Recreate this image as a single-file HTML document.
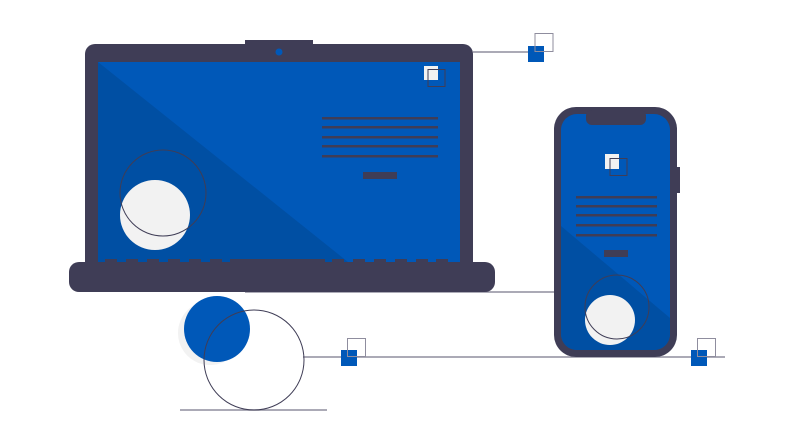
<!DOCTYPE html>
<html><head><style>html,body{margin:0;padding:0;background:#fff;width:795px;height:447px;overflow:hidden}</style></head>
<body>
<svg width="795" height="447" viewBox="0 0 795 447" xmlns="http://www.w3.org/2000/svg">
<!-- connector lines -->
<line x1="473" y1="52" x2="535" y2="52" stroke="#8f8d9e" stroke-width="1.5"/>
<line x1="245" y1="292" x2="556" y2="292" stroke="#8f8d9e" stroke-width="1.5"/>
<line x1="303" y1="357" x2="725" y2="357" stroke="#8f8d9e" stroke-width="1.5"/>
<line x1="180" y1="410" x2="327" y2="410" stroke="#8f8d9e" stroke-width="1.5"/>
<!-- laptop -->
<rect x="245" y="40" width="68" height="6" fill="#3f3d56"/>
<rect x="85" y="44" width="388" height="230" rx="10" fill="#3f3d56"/>
<rect x="98" y="62" width="362" height="200" fill="#0058b8"/>
<polygon points="98,62 348,262 98,262" fill="#004fa3"/>
<circle cx="279" cy="52" r="3.5" fill="#0058b8"/>
<rect x="69" y="262" width="426" height="30" rx="10" fill="#3f3d56"/>
<g fill="#3f3d56">
<rect x="105" y="259" width="12" height="4"/><rect x="126" y="259" width="12" height="4"/><rect x="147" y="259" width="12" height="4"/><rect x="168" y="259" width="12" height="4"/><rect x="189" y="259" width="12" height="4"/><rect x="210" y="259" width="12" height="4"/><rect x="230" y="259" width="95" height="4"/><rect x="332" y="259" width="12" height="4"/><rect x="353" y="259" width="12" height="4"/><rect x="374" y="259" width="12" height="4"/><rect x="395" y="259" width="12" height="4"/><rect x="416" y="259" width="12" height="4"/><rect x="436" y="259" width="12" height="4"/>
</g>
<rect x="424" y="66" width="14" height="14" fill="#f2f2f2"/>
<rect x="428" y="69.5" width="17" height="17" fill="none" stroke="#3f3d56" stroke-width="1"/>
<g fill="#3f3d56">
<rect x="322" y="117" width="116" height="2.5"/><rect x="322" y="126" width="116" height="2.5"/><rect x="322" y="136" width="116" height="2.5"/><rect x="322" y="145" width="116" height="2.5"/><rect x="322" y="155" width="116" height="2.5"/>
<rect x="363" y="172" width="34" height="7"/>
</g>
<circle cx="155" cy="215" r="35" fill="#f2f2f2"/>
<circle cx="163" cy="193" r="43" fill="none" stroke="#3f3d56" stroke-width="1"/>
<!-- top right squares -->
<rect x="528" y="46" width="16" height="16" fill="#0058b8"/>
<rect x="535" y="33.5" width="18" height="18" fill="none" stroke="#8f8d9e" stroke-width="1"/>
<!-- phone -->
<rect x="677" y="167" width="3" height="26" fill="#3f3d56"/>
<rect x="554" y="107" width="123" height="250" rx="22" fill="#3f3d56"/>
<clipPath id="ps"><rect x="561" y="114" width="109" height="236" rx="16"/></clipPath>
<g clip-path="url(#ps)">
<rect x="561" y="114" width="109" height="236" fill="#0058b8"/>
<polygon points="561,226 670,318 670,350 561,350" fill="#004fa3"/>
</g>
<rect x="586" y="110" width="60" height="15" rx="6" fill="#3f3d56"/>
<rect x="605" y="154" width="14" height="15" fill="#f2f2f2"/>
<rect x="610" y="158.5" width="17" height="17" fill="none" stroke="#3f3d56" stroke-width="1"/>
<g fill="#3f3d56">
<rect x="576" y="196" width="81" height="2.5"/><rect x="576" y="205" width="81" height="2.5"/><rect x="576" y="214" width="81" height="2.5"/><rect x="576" y="224" width="81" height="2.5"/><rect x="576" y="234" width="81" height="2.5"/>
<rect x="604" y="250" width="24" height="7"/>
</g>
<circle cx="610" cy="320" r="25" fill="#f2f2f2"/>
<circle cx="617" cy="307" r="32" fill="none" stroke="#3f3d56" stroke-width="1"/>
<!-- bottom circles -->
<circle cx="210" cy="333" r="32" fill="#f2f2f2"/>
<circle cx="217" cy="329" r="33" fill="#0058b8"/>
<circle cx="254" cy="360" r="50" fill="none" stroke="#3f3d56" stroke-width="1"/>
<!-- bottom squares -->
<rect x="341" y="350" width="16" height="16" fill="#0058b8"/>
<rect x="347.5" y="338.5" width="18" height="18" fill="none" stroke="#8f8d9e" stroke-width="1"/>
<rect x="691" y="350" width="16" height="16" fill="#0058b8"/>
<rect x="697.5" y="338.5" width="18" height="18" fill="none" stroke="#8f8d9e" stroke-width="1"/>
</svg>
</body></html>
